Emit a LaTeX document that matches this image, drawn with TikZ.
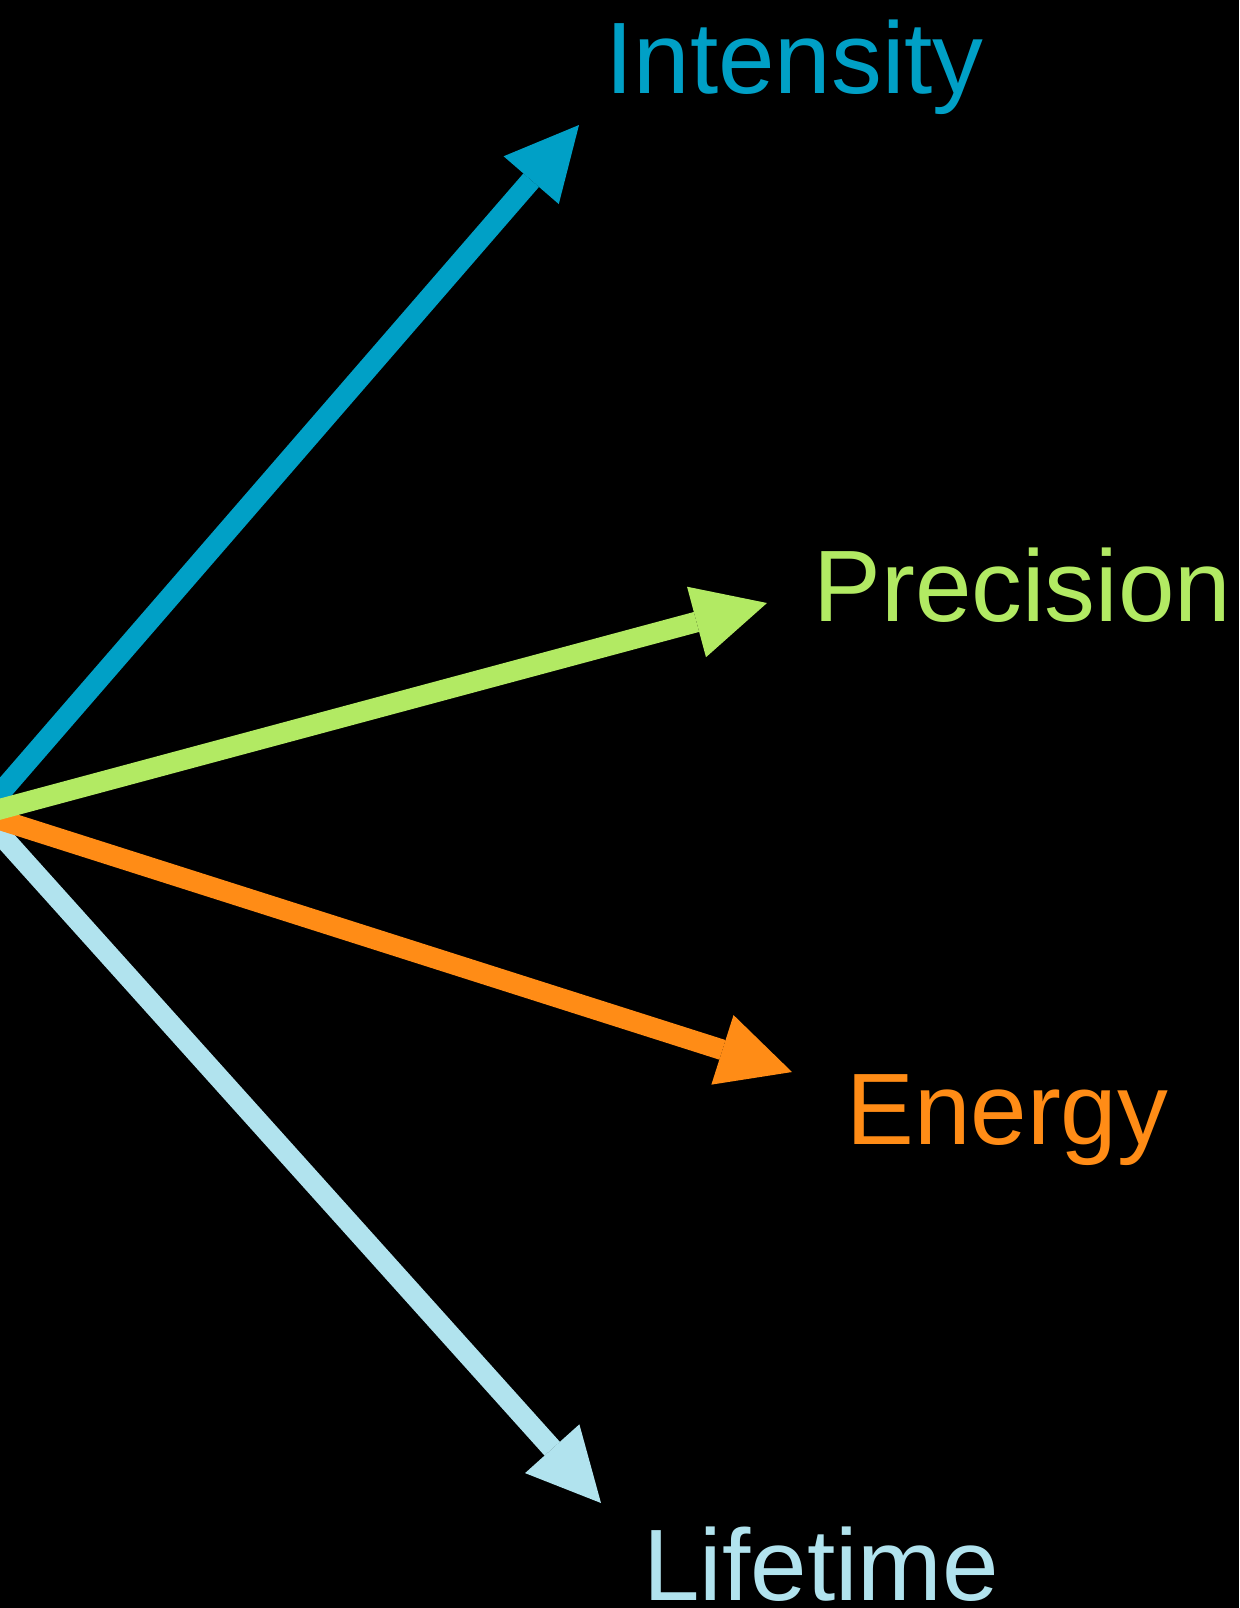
\documentclass[tikz,border=0pt]{standalone}
\usepackage{fontspec}
\setmainfont{Liberation Sans}
\usetikzlibrary{arrows.meta}
\definecolor{intblue}{HTML}{00A0C6}
\definecolor{precgreen}{HTML}{B2EA63}
\definecolor{enorange}{HTML}{FF8C16}
\definecolor{lifeblue}{HTML}{B1E3EE}

\begin{document}
\begin{tikzpicture}[x=0.5pt,y=-0.5pt,
  vec/.style={line width=10.3pt,-{Triangle[length=36.5pt,width=36.5pt,line width=0pt]}},
  lbl/.style={anchor=base west,inner sep=0pt,font=\fontsize{50.8pt}{60pt}\selectfont}]
\fill[black] (0,0) rectangle (1239,1608);
\useasboundingbox (0,0) rectangle (1239,1608);
% common start, just off the left edge
\coordinate (src) at (-18,814);
\coordinate (tint) at (579,125);
\coordinate (tprec) at (767,603);
\coordinate (tener) at (792,1072);
\coordinate (tlife) at (601,1503);
\node[lbl,text=intblue] (int) at (605,93) {Intensity};
\node[lbl,text=precgreen] (prec) at (813,621) {Precision};
\node[lbl,text=enorange] (ener) at (846,1144) {Energy};
\node[lbl,text=lifeblue] (life) at (643,1600) {Lifetime};
\draw[vec,lifeblue] (src) -- (tlife);
\draw[vec,intblue] (src) -- (tint);
\draw[vec,enorange] (src) -- (tener);
\draw[vec,precgreen] (src) -- (tprec);
\end{tikzpicture}
\end{document}
